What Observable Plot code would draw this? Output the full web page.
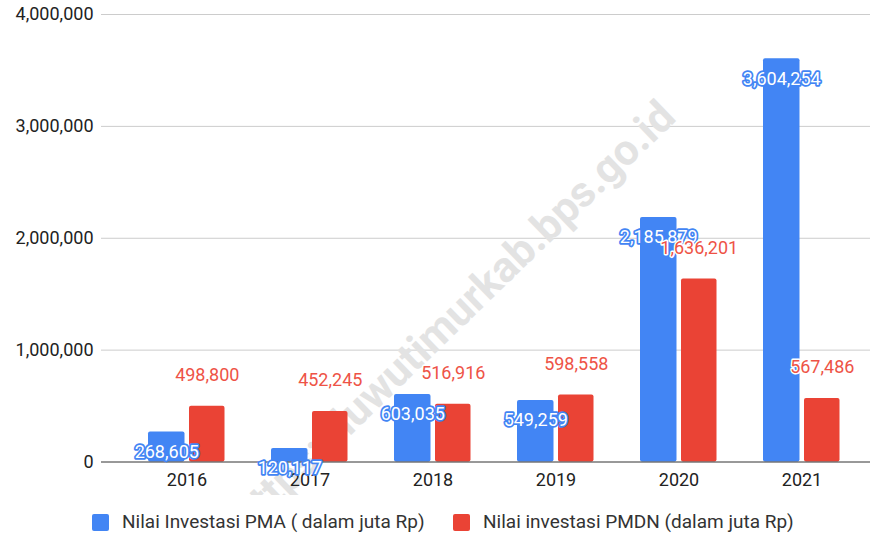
<!DOCTYPE html>
<html>
<head>
<meta charset="utf-8">
<script src="https://cdn.jsdelivr.net/npm/d3@7"></script>
<script src="https://cdn.jsdelivr.net/npm/@observablehq/plot@0.6"></script>
<style>
  body { margin: 0; background: #fff; font-family: Roboto, "Noto Sans", sans-serif; }
  #wrap { position: relative; width: 872px; height: 537px; overflow: hidden; }
  #legend { position: absolute; left: 0; top: 0; width: 872px; height: 537px; pointer-events: none; }
  .sw { position: absolute; width: 17px; height: 17px; border-radius: 2px; }
  .lt { position: absolute; font-size: 19px; color: #333; white-space: nowrap; line-height: 19px; }
</style>
</head>
<body>
<div id="wrap"><div id="chart"></div><div id="legend"></div></div>
<script>
const years = ["2016", "2017", "2018", "2019", "2020", "2021"];
const pma = [268605, 120117, 603035, 549259, 2185879, 3604254];
const pmdn = [498800, 452245, 516916, 598558, 1636201, 567486];
const seriesNames = ["Nilai Investasi PMA ( dalam juta Rp)", "Nilai investasi PMDN (dalam juta Rp)"];
const seriesColors = ["#4285f4", "#ea4335"];
const yTicks = [0, 1000000, 2000000, 3000000, 4000000];
const watermark = ["https://luwutimurkab.bps.go.id"];

const rowsPMA = years.map((year, i) => ({year, value: pma[i]}));
const rowsPMDN = years.map((year, i) => ({year, value: pmdn[i]}));
const fmt = d3.format(",");

const chart = Plot.plot({
  width: 872,
  height: 495,
  marginLeft: 101,
  marginRight: 2,
  marginTop: 14,
  marginBottom: 33.5,
  style: {fontFamily: "Roboto, sans-serif", background: "#fff"},
  x: {type: "band", domain: years, range: [123, 864], padding: 0},
  y: {domain: [0, 4000000]},
  marks: [
    Plot.ruleY(yTicks.filter(d => d > 0), {stroke: "#cccccc", strokeWidth: 1}),
    Plot.text(watermark, {text: d => d, frameAnchor: "middle", rotate: -44, dx: -32, dy: 78,
      fontSize: 43, fontWeight: "bold", fill: "#e3e3e3"}),
    Plot.barY(rowsPMA, {x: "year", y: "value", fill: seriesColors[0], insetLeft: 23, insetRight: 63.5, rx: 2}),
    Plot.barY(rowsPMDN, {x: "year", y: "value", fill: seriesColors[1], insetLeft: 64, insetRight: 23.5, rx: 2}),
    Plot.ruleY([0], {stroke: "#333333", strokeWidth: 1}),
    Plot.axisY(yTicks, {tickSize: 0, tickPadding: 8, tickFormat: fmt, fontSize: 18, fill: "#222", label: null}),
    Plot.axisX({tickSize: 0, tickPadding: 11, fontSize: 18, fill: "#222", label: null}),
    Plot.text(rowsPMA, {x: "year", y: "value", text: d => fmt(d.value), dx: -20.25, dy: 20,
      fontSize: 18, fill: "white", stroke: seriesColors[0], strokeWidth: 3.5, strokeLinejoin: "round", paintOrder: "stroke"}),
    Plot.text(rowsPMDN, {x: "year", y: "value", text: d => fmt(d.value), dx: 20.25, dy: -31,
      fontSize: 18, fill: "#ee5346", stroke: "white", strokeWidth: 3, strokeLinejoin: "round", paintOrder: "stroke"})
  ]
});
document.getElementById("chart").appendChild(chart);

const legend = document.getElementById("legend");
const pos = [{sw: 92, tx: 122}, {sw: 453, tx: 483}];
seriesNames.forEach((name, i) => {
  const s = document.createElement("div");
  s.className = "sw";
  s.style.left = pos[i].sw + "px";
  s.style.top = "514px";
  s.style.background = seriesColors[i];
  legend.appendChild(s);
  const t = document.createElement("div");
  t.className = "lt";
  t.style.left = pos[i].tx + "px";
  t.style.top = "512px";
  t.textContent = name;
  legend.appendChild(t);
});
</script>
</body>
</html>
